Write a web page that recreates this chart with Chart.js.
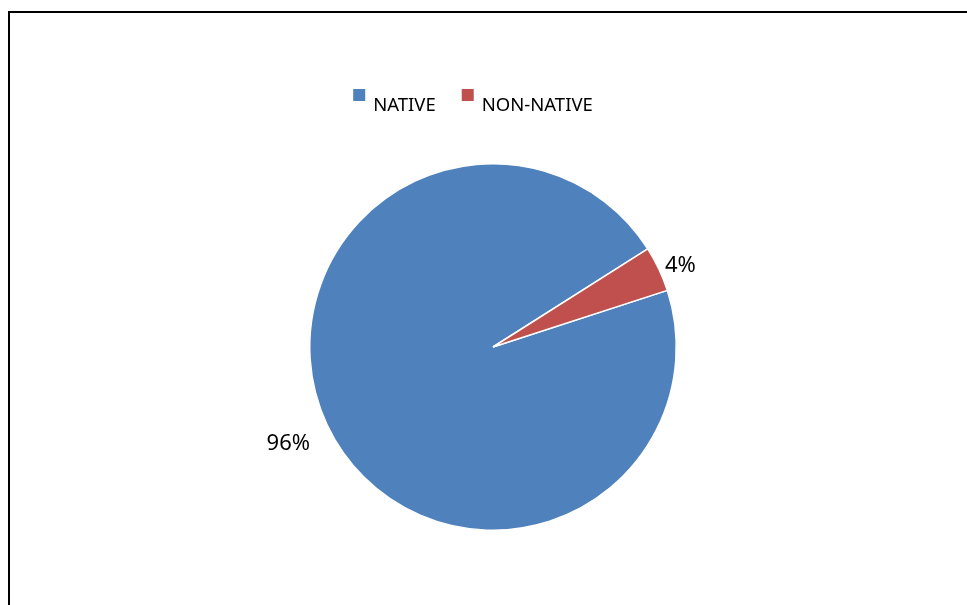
<!DOCTYPE html>
<html>
<head>
<meta charset="utf-8">
<script src="https://cdn.jsdelivr.net/npm/chart.js@4.4.0/dist/chart.umd.min.js"></script>
<style>
  html, body { margin: 0; padding: 0; background: #fff; }
  #frame {
    position: absolute; left: 8px; top: 11px; width: 980px; height: 620px;
    border-top: 2px solid #000; border-left: 2px solid #000;
  }
  #wrap { position: absolute; left: 0; top: 0; width: 967px; height: 605px; }
</style>
</head>
<body>
<div id="frame"></div>
<div id="wrap"><canvas id="pieChart" width="967" height="605"></canvas></div>
<script>
// Chart data
const categories = ['NATIVE', 'NON-NATIVE'];
const shares = [96, 4];
const sliceColors = ['#4F81BD', '#C0504D'];

// Percent labels outside the pie
const outsideLabels = {
    id: 'outsideLabels',
    afterDatasetsDraw(chart, args, opts) {
        const ctx = chart.ctx;
        const meta = chart.getDatasetMeta(0);
        const total = shares.reduce((a, b) => a + b, 0);
        ctx.save();
        ctx.font = opts.font;
        ctx.fillStyle = '#000';
        ctx.textAlign = 'center';
        ctx.textBaseline = 'middle';
        meta.data.forEach((arc, i) => {
            const p = arc.getProps(['x', 'y', 'startAngle', 'endAngle', 'outerRadius'], true);
            const mid = (p.startAngle + p.endAngle) / 2 + opts.turn[i];
            const r = p.outerRadius + opts.offsets[i];
            const txt = Math.round(shares[i] / total * 100) + '%';
            ctx.fillText(txt, p.x + Math.cos(mid) * r, p.y + Math.sin(mid) * r);
        });
        ctx.restore();
    }
};

// Legend drawn by hand so it can sit left of the pie centre like the original
const topLegend = {
    id: 'topLegend',
    afterDraw(chart, args, opts) {
        const ctx = chart.ctx;
        ctx.save();
        ctx.font = opts.font;
        ctx.textBaseline = 'alphabetic';
        const widths = categories.map(c => ctx.measureText(c).width);
        const itemW = widths.map(w => opts.box + opts.textGap + w);
        const total = itemW.reduce((a, b) => a + b, 0) + opts.itemGap * (categories.length - 1);
        let x = opts.centerX - total / 2;
        categories.forEach((c, i) => {
            ctx.fillStyle = sliceColors[i];
            ctx.fillRect(x, opts.boxTop, opts.box, opts.box);
            ctx.fillStyle = '#000';
            ctx.fillText(c, x + opts.box + opts.textGap, opts.baseline);
            x += itemW[i] + opts.itemGap;
        });
        ctx.restore();
    }
};

const ctx = document.getElementById('pieChart').getContext('2d');

const pieChart = new Chart(ctx, {
    type: 'pie',
    data: {
        labels: categories,
        datasets: [{
            data: shares,
            backgroundColor: sliceColors,
            borderColor: '#fff',
            borderWidth: 1.5
        }]
    },
    options: {
        responsive: false,
        animation: false,
        rotation: 72,
        layout: {
            padding: { left: 309, right: 290, top: 163, bottom: 74 }
        },
        plugins: {
            legend: { display: false },
            tooltip: { enabled: false },
            outsideLabels: {
                font: '22px "Noto Sans"',
                offsets: [43, 21],
                turn: [0, 0.03]
            },
            topLegend: {
                font: '18.5px "Noto Sans"',
                centerX: 473,
                box: 12,
                boxTop: 89,
                baseline: 111,
                textGap: 8,
                itemGap: 26
            }
        }
    },
    plugins: [outsideLabels, topLegend]
});
</script>
</body>
</html>
